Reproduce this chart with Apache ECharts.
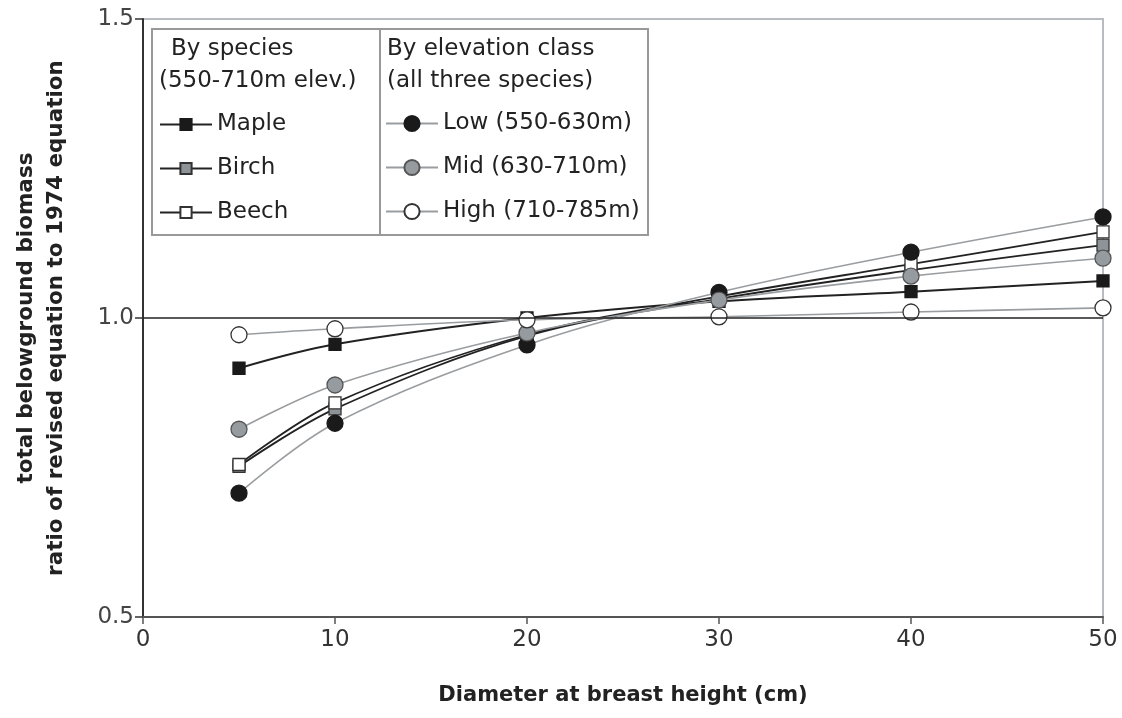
<!DOCTYPE html>
<html>
<head>
<meta charset="utf-8">
<script src="https://cdn.jsdelivr.net/npm/echarts@6/dist/echarts.min.js"></script>
<style>html,body{margin:0;padding:0;background:#fff}#c{width:1122px;height:718px}</style>
</head>
<body>
<div id="c"></div>
<script>
const dbh = [5, 10, 20, 30, 40, 50];
const maple = [0.916, 0.956, 1.0, 1.028, 1.044, 1.062];
const birch = [0.752, 0.848, 0.970, 1.032, 1.080, 1.122];
const beech = [0.755, 0.858, 0.972, 1.036, 1.090, 1.144];
const low = [0.707, 0.824, 0.955, 1.043, 1.110, 1.169];
const mid = [0.814, 0.888, 0.975, 1.030, 1.070, 1.100];
const high = [0.972, 0.982, 0.997, 1.002, 1.010, 1.017];
const xTicks = [0, 10, 20, 30, 40, 50];
const yTicks = [0.5, 1.0, 1.5];

const pair = arr => dbh.map((x, i) => [x, arr[i]]);
const font = 'DejaVu Sans, sans-serif';

function mk(name, data, symbol, size, fill, border, lineColor, lw) {
  return {
    name: name, type: 'line', data: pair(data), smooth: 0.35,
    symbol: symbol, symbolSize: size, showSymbol: true,
    lineStyle: { color: lineColor, width: lw },
    itemStyle: { color: fill, borderColor: border, borderWidth: 1.3 },
    emphasis: { disabled: true }, animation: false
  };
}

const series = [
  mk('Maple', maple, 'rect', 12, '#1a1a1a', '#1a1a1a', '#222', 2),
  mk('Birch', birch, 'rect', 12, '#8e9398', '#333', '#222', 1.8),
  mk('Beech', beech, 'rect', 12, '#ffffff', '#333', '#222', 1.8),
  mk('Low (550-630m)', low, 'circle', 16, '#1a1a1a', '#1a1a1a', '#9a9da0', 1.6),
  mk('Mid (630-710m)', mid, 'circle', 16, '#969ba0', '#555', '#9a9da0', 1.6),
  mk('High (710-785m)', high, 'circle', 16, '#ffffff', '#333', '#9a9da0', 1.6)
];
series[0].markLine = {
  silent: true, symbol: 'none', animation: false,
  label: { show: false },
  lineStyle: { color: '#222', width: 1.5, type: 'solid' },
  data: [{ yAxis: 1.0 }]
};

const legendText = { fontSize: 23, color: '#222', fontFamily: font, lineHeight: 23 };
const headStyle = { fontSize: 23, fill: '#222', fontFamily: font };

const chart = echarts.init(document.getElementById('c'));
chart.setOption({
  animation: false,
  grid: { left: 143, right: 19, top: 19, bottom: 101, show: true, borderColor: '#b8bcc0', borderWidth: 2,
    backgroundColor: 'transparent', containLabel: false, outerBoundsMode: 'none' },
  xAxis: {
    type: 'value', min: 0, max: 50, interval: 10,
    name: 'Diameter at breast height (cm)', nameLocation: 'middle', nameGap: 68,
    nameTextStyle: { fontSize: 21, fontWeight: 'bold', color: '#222', fontFamily: font },
    axisLine: { lineStyle: { color: '#555', width: 2 } },
    axisTick: { show: true, length: 7, lineStyle: { color: '#555', width: 1.5 } },
    axisLabel: { fontSize: 23, color: '#333', fontFamily: font, margin: 12,
      formatter: v => xTicks.includes(v) ? String(v) : '' },
    splitLine: { show: false }
  },
  yAxis: {
    type: 'value', min: 0.5, max: 1.5, interval: 0.5,
    name: 'total belowground biomass\nratio of revised equation to 1974 equation',
    nameLocation: 'middle', nameGap: 72, nameRotate: 90,
    nameTextStyle: { fontSize: 21.5, fontWeight: 'bold', color: '#222', fontFamily: font, lineHeight: 30 },
    axisLine: { lineStyle: { color: '#333', width: 2 } },
    axisTick: { show: true, length: 8, lineStyle: { color: '#333', width: 1.5 } },
    axisLabel: { fontSize: 23, color: '#444', fontFamily: font, margin: 9,
      formatter: v => { const t = yTicks.find(y => Math.abs(y - v) < 1e-9); return t !== undefined ? t.toFixed(1) : ''; } },
    splitLine: { show: false }
  },
  legend: [
    {
      orient: 'vertical', left: 159, top: 113, itemWidth: 52, itemHeight: 14, itemGap: 21,
      data: ['Maple', 'Birch', 'Beech'], textStyle: legendText, selectedMode: false, padding: 0
    },
    {
      orient: 'vertical', left: 385, top: 112, itemWidth: 52, itemHeight: 19, itemGap: 21,
      data: ['Low (550-630m)', 'Mid (630-710m)', 'High (710-785m)'], textStyle: legendText, selectedMode: false, padding: 0
    }
  ],
  graphic: [
    { type: 'rect', shape: { x: 152, y: 29, width: 496, height: 206 }, style: { fill: '#fff', stroke: '#999', lineWidth: 2 }, z: -1 },
    { type: 'line', shape: { x1: 380, y1: 29, x2: 380, y2: 235 }, style: { stroke: '#999', lineWidth: 2 }, z: 100 },
    { type: 'text', left: 171, top: 38, style: Object.assign({ text: 'By species' }, headStyle), z: 100 },
    { type: 'text', left: 159, top: 70, style: Object.assign({ text: '(550-710m elev.)' }, headStyle), z: 100 },
    { type: 'text', left: 387, top: 38, style: Object.assign({ text: 'By elevation class' }, headStyle), z: 100 },
    { type: 'text', left: 387, top: 70, style: Object.assign({ text: '(all three species)' }, headStyle), z: 100 }
  ],
  series: series
});
</script>
</body>
</html>
